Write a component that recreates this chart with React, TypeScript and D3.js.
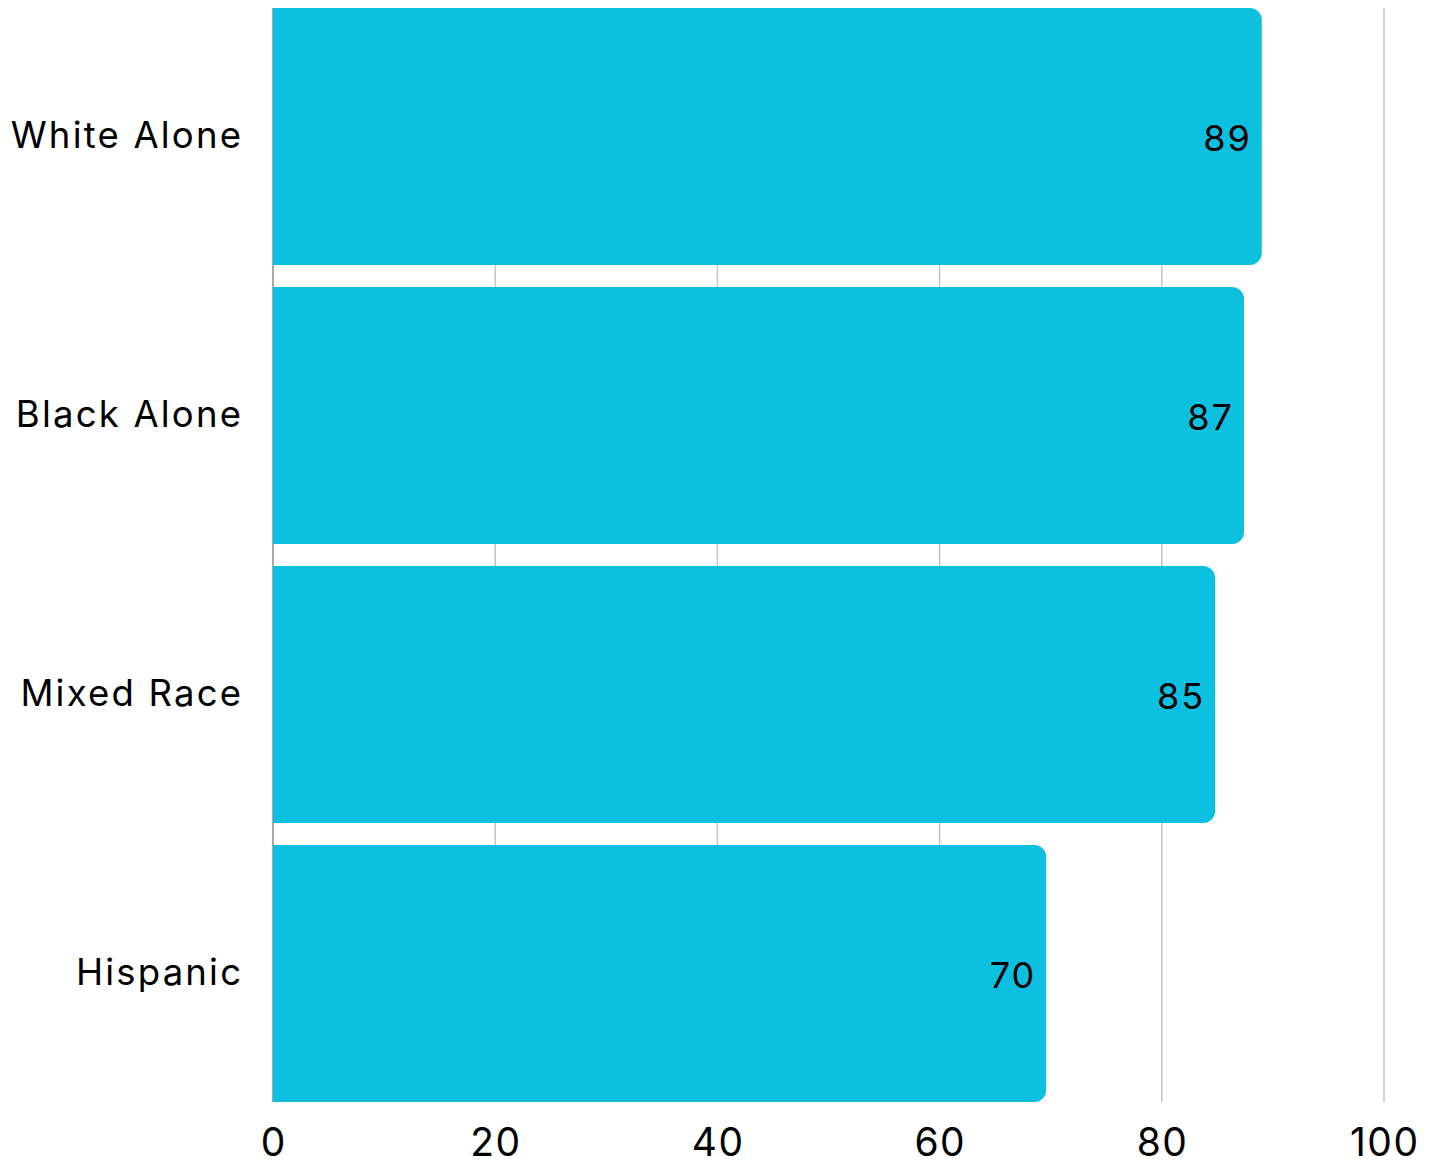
import React from "react";
import * as d3 from "d3";

const categories = ["White Alone", "Black Alone", "Mixed Race", "Hispanic"];
const values = [89.0, 87.4, 84.8, 69.6];
const xTicks = [0, 20, 40, 60, 80, 100];

const W = 1435;
const H = 1163;
const FONT = "Inter, 'Noto Sans', sans-serif";
const BAR = "#0dc0e0";

function roundedRightBar(x0: number, y0: number, x1: number, h: number, r: number) {
  const rr = Math.min(r, (x1 - x0) / 2, h / 2);
  return `M${x0},${y0}H${x1 - rr}A${rr},${rr} 0 0 1 ${x1},${y0 + rr}V${y0 + h - rr}A${rr},${rr} 0 0 1 ${x1 - rr},${y0 + h}H${x0}Z`;
}

export default function App() {
  const x = d3.scaleLinear().domain([0, 100]).range([273, 1384]);
  const y = d3
    .scaleBand<string>()
    .domain(categories)
    .range([-3, 1113])
    .paddingInner(22 / 279)
    .paddingOuter(11 / 279);
  const top = y(categories[0])!;
  const bottom = y(categories[categories.length - 1])! + y.bandwidth();
  const lsCat = 2.2;
  const lsVal = 2;
  const lsTick = 1.5;

  return (
    <svg
      width={W}
      height={H}
      style={{ position: "absolute", left: 0, top: 0, background: "#fff" }}
      fontFamily={FONT}
    >
      {xTicks.slice(1).map((t) => (
        <line key={t} x1={x(t)} x2={x(t)} y1={top} y2={bottom} stroke="#c4c4c4" strokeWidth={1.5} />
      ))}
      <line x1={x(0)} x2={x(0)} y1={top} y2={bottom} stroke="#8c8c8c" strokeWidth={1.5} />
      {categories.map((c, i) => {
        const y0 = y(c)!;
        const h = y.bandwidth();
        return (
          <g key={c}>
            <path d={roundedRightBar(x(0), y0, x(values[i]), h, 12)} fill={BAR} />
            <text
              x={x(values[i]) - 12 + lsVal}
              y={y0 + h / 2 + 1}
              textAnchor="end"
              dominantBaseline="central"
              fontSize={36}
              letterSpacing={lsVal}
              fill="#000"
            >
              {Math.round(values[i])}
            </text>
            <text
              x={241 + lsCat}
              y={y0 + h / 2 - 2}
              textAnchor="end"
              dominantBaseline="central"
              fontSize={36.5}
              letterSpacing={lsCat}
              fill="#000"
            >
              {c}
            </text>
          </g>
        );
      })}
      {xTicks.map((t) => (
        <text
          key={t}
          x={x(t) + lsTick / 2}
          y={1141}
          textAnchor="middle"
          dominantBaseline="central"
          fontSize={39}
          letterSpacing={lsTick}
          fill="#000"
        >
          {t}
        </text>
      ))}
    </svg>
  );
}
